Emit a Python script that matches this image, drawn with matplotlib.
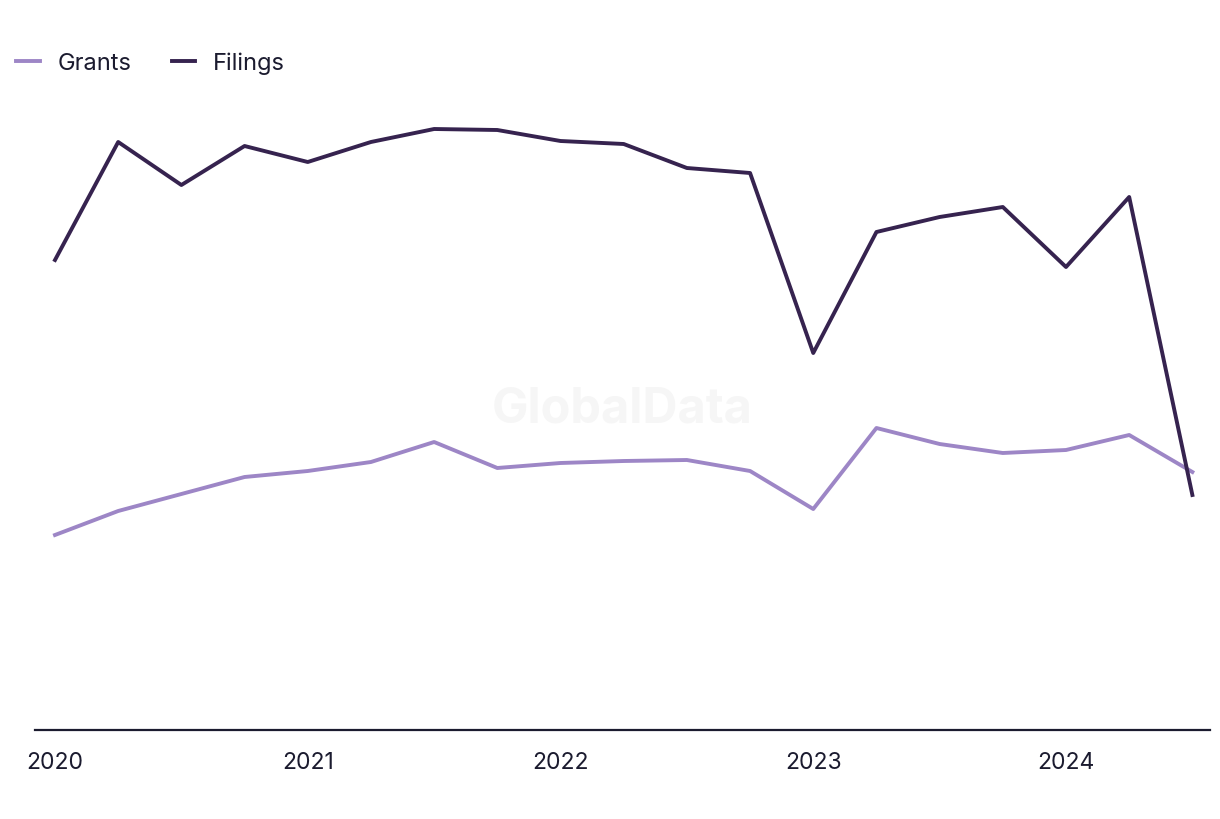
import matplotlib
matplotlib.use("Agg")
import matplotlib.pyplot as plt

# quarterly points, 2020 Q1 .. 2024 Q3
quarters = [2020 + i * 0.25 for i in range(19)]
filings = [470, 588, 545, 584, 568, 588, 601, 600, 589, 586, 562, 557,
           377, 498, 513, 523, 463, 533, 235]
grants = [195, 219, 236, 253, 259, 268, 288, 262, 267, 269, 270, 259,
          221, 302, 286, 277, 280, 295, 258]
year_ticks = [2020, 2021, 2022, 2023, 2024]

plt.rcParams['font.family'] = ['Inter', 'DejaVu Sans']
text_color = '#1b1b2f'

fig = plt.figure(figsize=(12.2, 8.2), dpi=100)
ax = fig.add_axes([35 / 1220, 1 - 731 / 820, 1175 / 1220, 630 / 820])

ax.plot(quarters, grants, color='#9d86c6', lw=2.8, label='Grants')
ax.plot(quarters, filings, color='#36234f', lw=2.8, label='Filings')

ax.set_xlim(2020 - 20 / 252.75, 2020 + 1155 / 252.75)
ax.set_ylim(0, 630)
ax.set_xticks(year_ticks)
ax.set_xticklabels([str(y) for y in year_ticks])
ax.set_yticks([])
for side in ['top', 'right', 'left']:
    ax.spines[side].set_visible(False)
ax.spines['bottom'].set_color(text_color)
ax.spines['bottom'].set_linewidth(1.6)
ax.tick_params(axis='x', length=0, pad=15, labelsize=16.5, labelcolor=text_color)

# watermark
ax.text(0.5, 0.51, 'GlobalData', transform=ax.transAxes, ha='center', va='center',
        fontsize=35, fontweight='bold', color='#f6f6f6', zorder=0)

leg = fig.legend(loc='upper left', bbox_to_anchor=(-0.004, 0.962), ncol=2, frameon=False,
                 fontsize=17, handlelength=1.0, columnspacing=1.7, handletextpad=0.75)
for t in leg.get_texts():
    t.set_color(text_color)

fig.savefig('out.png', dpi=100)
